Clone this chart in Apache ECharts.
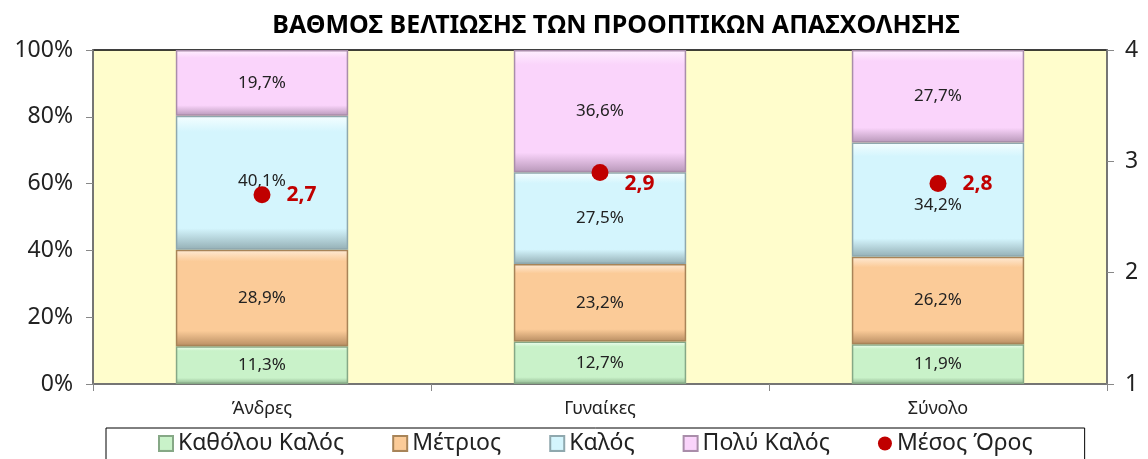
<!DOCTYPE html>
<html>
<head>
<meta charset="utf-8">
<script src="https://cdn.jsdelivr.net/npm/echarts@6/dist/echarts.min.js"></script>
<style>
  html, body { margin: 0; padding: 0; background: #fff; }
  #chart { width: 1148px; height: 459px; }
</style>
</head>
<body>
<div id="chart"></div>
<script>
const categories = ["Άνδρες", "Γυναίκες", "Σύνολο"];
const notAtAll = [11.3, 12.7, 11.9];   // Καθόλου Καλός
const moderate = [28.9, 23.2, 26.2];   // Μέτριος
const good = [40.1, 27.5, 34.2];       // Καλός
const veryGood = [19.7, 36.6, 27.7];   // Πολύ Καλός
const mean = [2.7, 2.9, 2.8];          // Μέσος Όρος

// small manual label nudges, like the hand-placed labels in the original
const goodLabelDy = [-2, 0, 6];
const meanLabelDy = [0, 12, 0];

const FONT = "Noto Sans";

// bevel-ish fill: light top edge, base colour, darker bottom
function bevel(light, base, dark) {
  return {
    type: "linear", x: 0, y: 0, x2: 0, y2: 1,
    colorStops: [
      { offset: 0, color: light },
      { offset: 0.12, color: base },
      { offset: 0.84, color: base },
      { offset: 1, color: dark }
    ]
  };
}

function barSeries(name, data, light, base, dark, border, dy) {
  return {
    name: name,
    type: "bar",
    stack: "total",
    barWidth: "51%",
    data: data.map((v, i) => ({ value: v, label: { offset: [0, dy ? dy[i] : 0] } })),
    itemStyle: { color: bevel(light, base, dark), borderColor: border, borderWidth: 1.5 },
    label: {
      show: true,
      position: "inside",
      fontFamily: FONT,
      fontSize: 17,
      color: "#222",
      formatter: p => p.value.toFixed(1).replace(".", ",") + "%"
    }
  };
}

const chart = echarts.init(document.getElementById("chart"));
chart.setOption({
  animation: false,
  title: {
    text: "ΒΑΘΜΟΣ ΒΕΛΤΙΩΣΗΣ ΤΩΝ ΠΡΟΟΠΤΙΚΩΝ ΑΠΑΣΧΟΛΗΣΗΣ",
    left: 611,
    textAlign: "center",
    top: 8,
    textStyle: { fontFamily: FONT, fontSize: 25, fontWeight: "bold", color: "#000" }
  },
  grid: {
    left: 93, right: 41, top: 50, bottom: 75,
    show: true,
    backgroundColor: "#FFFDCC",
    borderColor: "#000",
    borderWidth: 1.5
  },
  legend: {
    top: 428,
    left: 106,
    padding: [4, 52, 20, 52],
    borderColor: "#000",
    borderWidth: 1,
    itemGap: 48,
    itemWidth: 14,
    itemHeight: 15,
    textStyle: { fontFamily: FONT, fontSize: 23, color: "#222" },
    data: [
      { name: "Καθόλου Καλός", icon: "rect" },
      { name: "Μέτριος", icon: "rect" },
      { name: "Καλός", icon: "rect" },
      { name: "Πολύ Καλός", icon: "rect" },
      { name: "Μέσος Όρος", icon: "circle" }
    ]
  },
  xAxis: {
    type: "category",
    data: categories,
    axisLine: { lineStyle: { color: "#888", width: 1.5 } },
    axisTick: { show: true, length: 7, lineStyle: { color: "#888" } },
    axisLabel: { fontFamily: FONT, fontSize: 18, color: "#222", margin: 16 }
  },
  yAxis: [
    {
      type: "value",
      min: 0, max: 100, interval: 20,
      axisLine: { show: true, lineStyle: { color: "#888", width: 1.5 } },
      axisTick: { show: true, length: 7, lineStyle: { color: "#888" } },
      splitLine: { show: false },
      axisLabel: { fontFamily: FONT, fontSize: 23, color: "#222", margin: 20, formatter: "{value}%" }
    },
    {
      type: "value",
      min: 1, max: 4, interval: 1,
      position: "right",
      axisLine: { show: true, lineStyle: { color: "#888", width: 1.5 } },
      axisTick: { show: true, length: 7, lineStyle: { color: "#888" } },
      splitLine: { show: false },
      axisLabel: { fontFamily: FONT, fontSize: 23, color: "#222", margin: 18 }
    }
  ],
  series: [
    barSeries("Καθόλου Καλός", notAtAll, "#F2FFF2", "#C9F2C9", "#8FB58F", "#86A886"),
    barSeries("Μέτριος", moderate, "#FFEBD6", "#FBCB98", "#B88D62", "#A88458"),
    barSeries("Καλός", good, "#F5FEFF", "#D4F5FD", "#94AFB5", "#8FA8AE", goodLabelDy),
    barSeries("Πολύ Καλός", veryGood, "#FFF0FF", "#FAD4FB", "#B898B9", "#A98DAA"),
    {
      name: "Μέσος Όρος",
      type: "scatter",
      yAxisIndex: 1,
      data: mean.map((v, i) => ({ value: v, label: { offset: [0, meanLabelDy[i]] } })),
      symbol: "circle",
      symbolSize: 17,
      itemStyle: { color: "#C00000", opacity: 1 },
      z: 5,
      label: {
        show: true,
        position: "right",
        distance: 16,
        fontFamily: FONT,
        fontSize: 21,
        fontWeight: "bold",
        color: "#C00000",
        formatter: p => p.value.toFixed(1).replace(".", ",")
      }
    }
  ]
});
</script>
</body>
</html>
